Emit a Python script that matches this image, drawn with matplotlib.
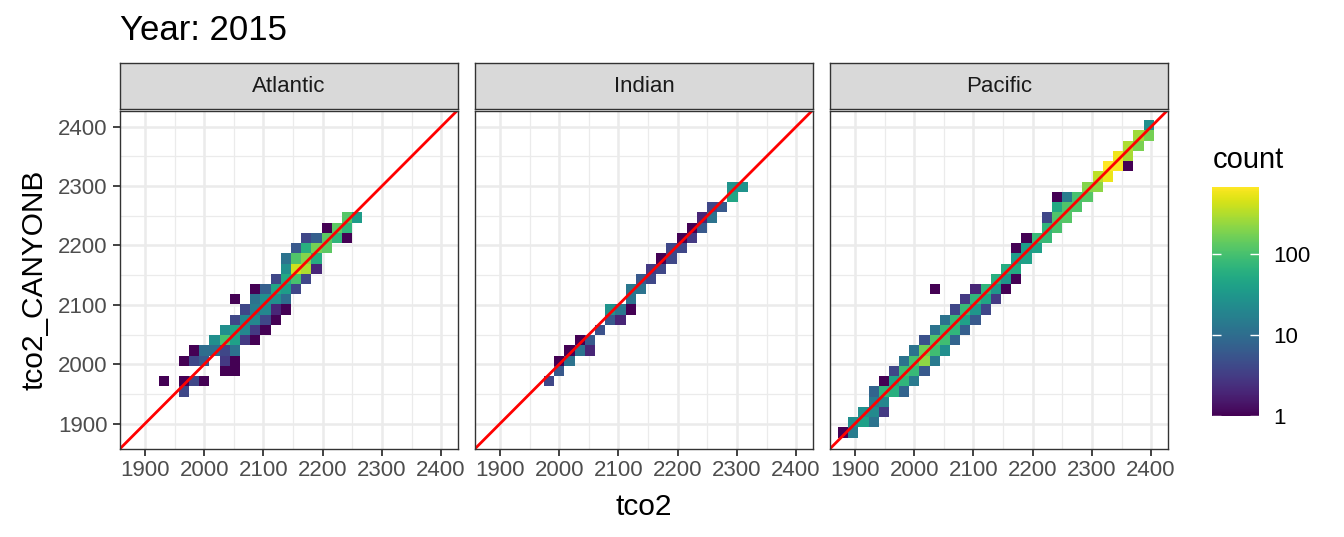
import numpy as np
import matplotlib
matplotlib.use("Agg")
import matplotlib.pyplot as plt
from matplotlib.colors import LogNorm
from matplotlib.cm import ScalarMappable

plt.rcParams['font.family'] = ['Liberation Sans', 'DejaVu Sans']

# ---------------- data ----------------
title = "Year: 2015"
basins = ["Atlantic", "Indian", "Pacific"]
x_label = "tco2"
y_label = "tco2_CANYONB"
axis_ticks = [1900, 2000, 2100, 2200, 2300, 2400]
minor_ticks = [1950, 2050, 2150, 2250, 2350]
legend_title = "count"
legend_ticks = [1, 10, 100]

# 2D bin grid (tco2 on x, tco2_CANYONB on y)
x_bin_start = 1871.3
x_bin_width = 17.2
y_bin_start = 1876.4
y_bin_width = 17.25
n_bins = 31

atlantic_ix = [5, 3, 5, 6, 7, 9, 10, 5, 6, 7, 9, 10, 6, 7, 8, 9, 10, 8, 9, 10, 11, 12,
               9, 10, 11, 12, 13, 10, 11, 12, 13, 14, 11, 12, 13, 14, 15, 10, 12, 13, 14, 15,
               12, 13, 14, 15, 16, 14, 15, 16, 17, 15, 16, 17, 18, 15, 16, 17, 18,
               16, 17, 18, 19, 17, 18, 19, 20, 21, 19, 20, 21, 21, 22]
atlantic_iy = [4, 5, 5, 5, 5, 6, 6, 7, 7, 7, 7, 7, 8, 8, 8, 8, 8, 9, 9, 9, 9, 9,
               10, 10, 10, 10, 10, 11, 11, 11, 11, 11, 12, 12, 12, 12, 12, 13, 13, 13, 13, 13,
               14, 14, 14, 14, 14, 15, 15, 15, 15, 16, 16, 16, 16, 17, 17, 17, 17,
               18, 18, 18, 18, 19, 19, 19, 19, 19, 20, 20, 20, 21, 21]
atlantic_n = [4, 1, 1, 4, 1, 1, 1, 1, 4, 6, 3, 1, 1, 10, 10, 4, 12, 25, 100, 40, 3, 1,
              25, 45, 20, 3, 1, 4, 20, 20, 4, 1, 4, 15, 20, 2, 1, 1, 12, 25, 25, 10,
              1, 7, 45, 35, 4, 4, 50, 100, 4, 25, 400, 300, 2, 12, 110, 200, 55,
              6, 60, 170, 130, 4, 7, 130, 70, 1, 1, 130, 70, 120, 35]

indian_ix = [6, 7, 7, 8, 8, 9, 10, 9, 10, 11, 12, 13, 12, 13, 14, 14, 14, 15, 15, 16,
             16, 17, 17, 18, 18, 19, 19, 20, 20, 21, 21, 22, 22, 23, 24, 24, 25]
indian_iy = [5, 6, 7, 7, 8, 8, 8, 9, 9, 10, 11, 11, 12, 12, 12, 13, 14, 14, 15, 15,
             16, 16, 17, 17, 18, 18, 19, 19, 20, 20, 21, 21, 22, 22, 23, 24, 24]
indian_n = [4, 6, 1, 12, 1, 12, 2, 1, 6, 5, 6, 2, 28, 13, 1, 12, 13, 12, 6, 4,
            3, 4, 1, 4, 4, 4, 1, 3, 1, 6, 2, 12, 4, 6, 45, 28, 28]

pacific_ix = [0, 1, 1, 2, 3, 2, 3, 4, 3, 4, 3, 4, 5, 6, 4, 5, 6, 7, 5, 6, 7, 8,
              6, 7, 8, 9, 7, 8, 9, 10, 8, 9, 10, 11, 9, 10, 11, 12, 10, 11, 12, 13,
              11, 12, 13, 14, 12, 13, 14, 15, 9, 13, 14, 15, 16, 15, 16, 17, 16, 17,
              17, 18, 17, 18, 19, 18, 19, 20, 20, 21, 20, 21, 22, 21, 22, 23,
              21, 22, 23, 24, 24, 25, 25, 26, 26, 27, 28, 27, 28, 28, 29, 29, 30, 30]
pacific_iy = [0, 0, 1, 1, 1, 2, 2, 2, 3, 3, 4, 4, 4, 4, 5, 5, 5, 5, 6, 6, 6, 6,
              7, 7, 7, 7, 8, 8, 8, 8, 9, 9, 9, 9, 10, 10, 10, 10, 11, 11, 11, 11,
              12, 12, 12, 12, 13, 13, 13, 13, 14, 14, 14, 14, 14, 15, 15, 15, 16, 16,
              17, 17, 18, 18, 18, 19, 19, 19, 20, 20, 21, 21, 21, 22, 22, 22,
              23, 23, 23, 23, 24, 24, 25, 25, 26, 26, 26, 27, 27, 28, 28, 29, 29, 30]
pacific_n = [1, 15, 25, 40, 12, 25, 22, 3, 14, 20, 8, 70, 60, 8, 1, 45, 70, 14, 4, 90, 80, 6,
             12, 100, 220, 14, 12, 160, 90, 25, 5, 110, 90, 8, 12, 80, 70, 7, 12, 80, 40, 6,
             4, 80, 30, 4, 3, 70, 45, 3, 1, 2, 70, 30, 1, 60, 30, 1, 55, 50,
             35, 40, 1, 35, 40, 1, 80, 80, 70, 100, 4, 110, 120, 50, 110, 110,
             1, 15, 100, 120, 200, 220, 350, 550, 660, 620, 1, 560, 280, 300, 180, 260, 170, 25]

panels = [
    (atlantic_ix, atlantic_iy, atlantic_n),
    (indian_ix, indian_iy, indian_n),
    (pacific_ix, pacific_iy, pacific_n),
]

# ---------------- layout ----------------
W, H = 1344, 537
fig = plt.figure(figsize=(W / 100, H / 100), dpi=100)
fig.patch.set_facecolor('white')

x_edges = x_bin_start + x_bin_width * np.arange(n_bins + 1)
y_edges = y_bin_start + y_bin_width * np.arange(n_bins + 1)

all_n = np.concatenate([np.asarray(p[2], float) for p in panels])
norm = LogNorm(vmin=all_n.min(), vmax=all_n.max())
cmap = plt.get_cmap('viridis')

panel_lefts = [120, 475, 830]
panel_w = 338
panel_top, panel_bot = 111, 449
strip_top, strip_bot = 63, 109

xlim = (1857.8, 2428.5)
ylim = (1857.3, 2426.5)

for k, (name, (ix, iy, n)) in enumerate(zip(basins, panels)):
    left = panel_lefts[k]
    ax = fig.add_axes([left / W, 1 - panel_bot / H, panel_w / W, (panel_bot - panel_top) / H])
    ax.set_facecolor('white')
    xs = x_bin_start + x_bin_width * (np.asarray(ix) + 0.5)
    ys = y_bin_start + y_bin_width * (np.asarray(iy) + 0.5)
    ax.hist2d(xs, ys, bins=[x_edges, y_edges], weights=np.asarray(n, float),
              cmin=0.5, cmap=cmap, norm=norm, zorder=2)
    ax.axline((1900, 1900), (2400, 2400), color='red', lw=2.0, zorder=3)
    ax.set_xlim(*xlim)
    ax.set_ylim(*ylim)
    ax.set_xticks(axis_ticks)
    ax.set_yticks(axis_ticks)
    ax.set_xticks(minor_ticks, minor=True)
    ax.set_yticks(minor_ticks, minor=True)
    ax.grid(which='major', color='#EBEBEB', lw=1.8, zorder=0)
    ax.grid(which='minor', color='#EBEBEB', lw=0.9, zorder=0)
    ax.set_axisbelow(True)
    ax.tick_params(which='minor', length=0)
    ax.tick_params(which='major', length=5, width=1.3, color='#333333',
                   labelsize=16, labelcolor='#4D4D4D')
    ax.tick_params(axis='x', pad=3)
    ax.tick_params(axis='y', pad=4)
    if k > 0:
        ax.tick_params(axis='y', labelleft=False, length=0)
    for s in ax.spines.values():
        s.set_color('#333333')
        s.set_linewidth(1.0)
        s.set_zorder(5)

    sax = fig.add_axes([left / W, 1 - strip_bot / H, panel_w / W, (strip_bot - strip_top) / H])
    sax.set_facecolor('#D9D9D9')
    sax.set_xticks([])
    sax.set_yticks([])
    for s in sax.spines.values():
        s.set_color('#333333')
        s.set_linewidth(1.0)
    sax.text(0.5, 0.5, name, ha='center', va='center', fontsize=16,
             color='#1A1A1A', transform=sax.transAxes)

# titles
fig.text(120 / W, 1 - 40 / H, title, fontsize=25, va='baseline', ha='left')
fig.text(643.5 / W, 1 - 507 / H, x_label, fontsize=21.5, va='center', ha='center')
fig.text(35 / W, 1 - 280 / H, y_label, fontsize=21.5, va='center', ha='center', rotation=90)

# legend colorbar
cax = fig.add_axes([1212 / W, 1 - 416 / H, 47 / W, (416 - 187) / H])
sm = ScalarMappable(norm=norm, cmap=cmap)
cb = fig.colorbar(sm, cax=cax, ticks=legend_ticks)
cb.outline.set_visible(False)
cax.minorticks_off()
cax.set_yticks(legend_ticks)
cax.set_yticklabels([str(t) for t in legend_ticks])
cax.tick_params(axis='y', which='major', direction='in', length=6.5, width=1.0,
                color='white', left=True, right=True, labelleft=False,
                labelright=True, labelsize=16, labelcolor='black', pad=10)
fig.text(1213 / W, 1 - 168 / H, legend_title, fontsize=21, va='baseline', ha='left')

fig.savefig('out.png', dpi=100, facecolor='white')
